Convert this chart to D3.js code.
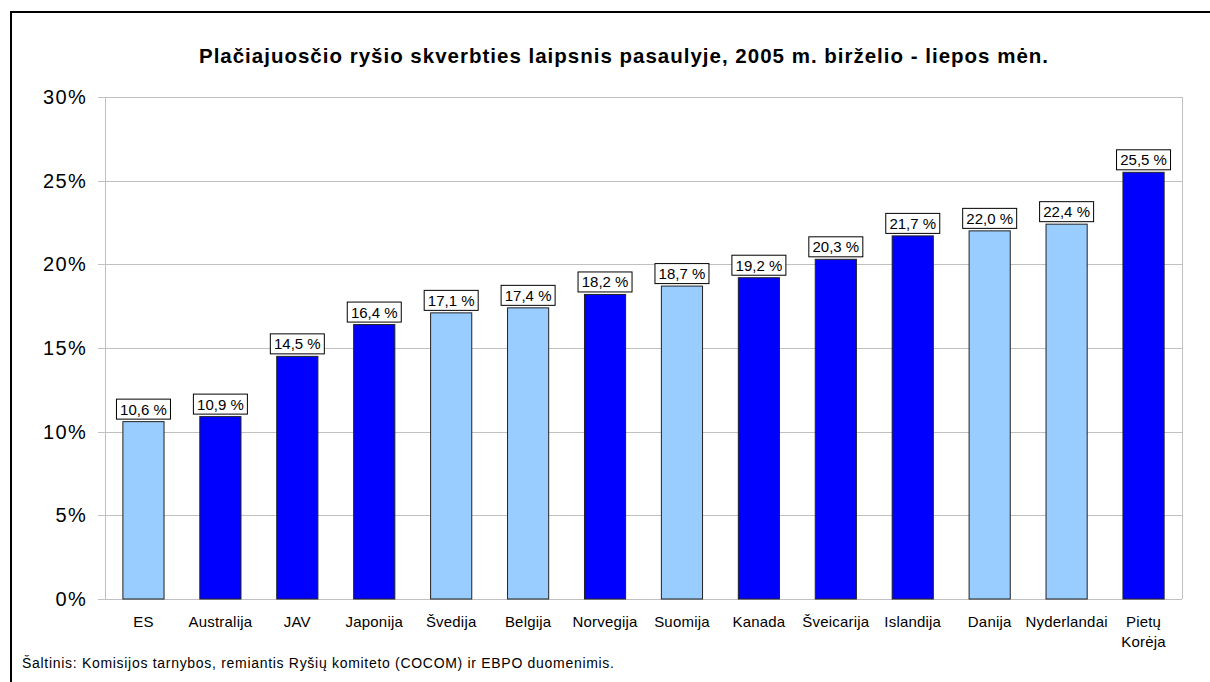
<!DOCTYPE html>
<meta charset="utf-8">
<style>
html, body {
  margin: 0;
  padding: 0;
  background: #fff;
}
svg text {
  font-family: Arial, "Liberation Sans", sans-serif;
}
.grid line {
  stroke: #c0c0c0;
  stroke-width: 1px;
}
.bar {
  stroke: #222;
  stroke-width: 1px;
}
.lbl rect {
  fill: #fff;
  stroke: #000;
  stroke-width: 1px;
}
</style>
<body>
<script src="https://cdnjs.cloudflare.com/ajax/libs/d3/7.8.5/d3.min.js"></script>
<script>

// Data
var countries = ["ES", "Australija", "JAV", "Japonija", "Švedija", "Belgija", "Norvegija",
  "Suomija", "Kanada", "Šveicarija", "Islandija", "Danija", "Nyderlandai", "Pietų Korėja"];
var values = [10.6, 10.9, 14.5, 16.4, 17.1, 17.4, 18.2, 18.7, 19.2, 20.3, 21.7, 22.0, 22.4, 25.5];
// 1 = light blue bar, 0 = dark blue bar
var light = [1, 0, 0, 0, 1, 1, 0, 1, 0, 0, 0, 1, 1, 0];
var yTicks = [0, 5, 10, 15, 20, 25, 30];

var title = "Plačiajuosčio ryšio skverbties laipsnis pasaulyje, 2005 m. birželio - liepos mėn.";
var source = "Šaltinis: Komisijos tarnybos, remiantis Ryšių komiteto (COCOM) ir EBPO duomenimis.";

var width = 1210, height = 682;
var margin = {left: 105, right: 28, top: 97, bottom: 83};

var svg = d3.select("body").append("svg")
    .attr("width", width)
    .attr("height", height);

// outer frame (runs off the right and bottom edge)
svg.append("rect")
    .attr("x", 11).attr("y", 12)
    .attr("width", width + 20).attr("height", height + 20)
    .attr("fill", "none")
    .attr("stroke", "#000")
    .attr("stroke-width", 2);

var x = d3.scaleBand()
    .domain(countries)
    .range([margin.left, width - margin.right])
    .paddingInner(0.465)
    .paddingOuter(0.2325);

var y = d3.scaleLinear()
    .domain([0, 30])
    .range([height - margin.bottom, margin.top]);

// title
svg.append("text")
    .attr("x", 624)
    .attr("y", 63)
    .attr("text-anchor", "middle")
    .style("font-size", "20.5px")
    .style("letter-spacing", "1px")
    .style("font-weight", "bold")
    .text(title);

// gridlines
svg.append("g")
    .attr("class", "grid")
    .selectAll("line")
    .data(yTicks)
    .enter().append("line")
    .attr("x1", margin.left - 7)
    .attr("x2", width - margin.right)
    .attr("y1", function(d) { return Math.round(y(d)) + 0.5; })
    .attr("y2", function(d) { return Math.round(y(d)) + 0.5; });

// plot frame (left & right gray)
svg.append("g").attr("class", "grid")
  .selectAll("line")
  .data([margin.left, width - margin.right])
  .enter().append("line")
    .attr("x1", function(d) { return d + 0.5; })
    .attr("x2", function(d) { return d + 0.5; })
    .attr("y1", y(30))
    .attr("y2", y(0));

// y labels
svg.append("g")
  .selectAll("text")
  .data(yTicks)
  .enter().append("text")
    .attr("x", 87)
    .attr("y", function(d) { return y(d) + 7; })
    .attr("text-anchor", "end")
    .style("font-size", "20px")
    .style("letter-spacing", "1.3px")
    .text(function(d) { return d + "%"; });

// bars
svg.append("g")
  .selectAll("rect")
  .data(values)
  .enter().append("rect")
    .attr("class", "bar")
    .attr("x", function(d, i) { return x(countries[i]); })
    .attr("width", x.bandwidth())
    .attr("y", function(d) { return y(d); })
    .attr("height", function(d) { return y(0) - y(d); })
    .attr("fill", function(d, i) { return light[i] ? "#99ccff" : "#0000ff"; });

// value labels in boxes
var lbl = svg.append("g")
  .selectAll("g")
  .data(values)
  .enter().append("g")
    .attr("class", "lbl")
    .attr("transform", function(d, i) {
      return "translate(" + (x(countries[i]) + x.bandwidth() / 2) + "," + (y(d) - 2) + ")";
    });

lbl.append("rect")
    .attr("x", -27)
    .attr("y", -20.5)
    .attr("width", 54)
    .attr("height", 20);

lbl.append("text")
    .attr("text-anchor", "middle")
    .attr("y", -5)
    .style("font-size", "15px")
    .text(function(d) { return d3.format(".1f")(d).replace(".", ",") + " %"; });

// x labels
svg.append("g")
  .selectAll("text")
  .data(countries)
  .enter().append("text")
    .attr("text-anchor", "middle")
    .attr("transform", function(d) {
      return "translate(" + (x(d) + x.bandwidth() / 2) + ",627)";
    })
    .style("font-size", "15px")
    .style("letter-spacing", "0.2px")
    .each(function(d) {
      var words = d === "Pietų Korėja" ? ["Pietų", "Korėja"] : [d];
      var t = d3.select(this);
      words.forEach(function(w, k) {
        t.append("tspan").attr("x", 0).attr("dy", k ? 20 : 0).text(w);
      });
    });

// source
svg.append("text")
    .attr("x", 22)
    .attr("y", 668)
    .style("font-size", "14px")
    .style("letter-spacing", "0.7px")
    .text(source);

</script>
</body>
